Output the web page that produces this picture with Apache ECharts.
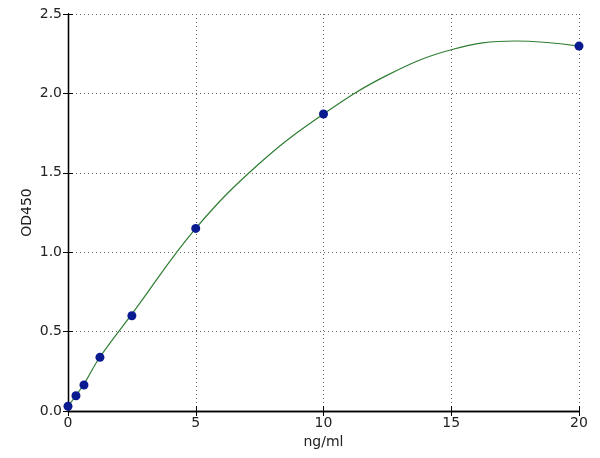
<!DOCTYPE html>
<html>
<head>
<meta charset="utf-8">
<script src="https://cdn.jsdelivr.net/npm/echarts@6/dist/echarts.min.js"></script>
<style>
html,body{margin:0;padding:0;background:#fff;}
#chart{width:600px;height:458px;}
</style>
</head>
<body>
<div id="chart"></div>
<script>
// Standard points
var concentrations = [0, 0.3125, 0.625, 1.25, 2.5, 5, 10, 20];
var odValues = [0.03, 0.096, 0.164, 0.338, 0.60, 1.15, 1.87, 2.298];
// Fitted curve
var curveX = [0, 0.625, 1.25, 2.5, 5, 7.5, 10, 12.5, 15, 17.5, 20];
var curveY = [0.03, 0.17, 0.34, 0.61, 1.15, 1.56, 1.87, 2.115, 2.275, 2.33, 2.298];
var xTicks = [0, 5, 10, 15, 20];
var yTicks = [0, 0.5, 1.0, 1.5, 2.0, 2.5];

var font = 'DejaVu Sans';
var txt = '#222';
function pairs(xs, ys){ return xs.map(function(x,i){ return [x, ys[i]]; }); }

var chart = echarts.init(document.getElementById('chart'));
var axisLine = {show:true, lineStyle:{color:'#000', width:1.3}};
var tickIn = {show:true, inside:true, length:5, lineStyle:{color:'#000'}};
chart.setOption({
  animation:false,
  backgroundColor:'#fff',
  grid:{left:68, right:21, top:14, bottom:47},
  xAxis:[{
    type:'value', min:xTicks[0], max:xTicks[xTicks.length-1], interval:xTicks[1]-xTicks[0],
    name:'ng/ml', nameLocation:'middle', nameGap:24, nameMoveOverlap:false,
    nameTextStyle:{fontFamily:font, fontSize:14, color:txt},
    axisLine:axisLine, axisTick:tickIn,
    axisLabel:{fontFamily:font, fontSize:14, color:txt, margin:5},
    splitLine:{show:true, lineStyle:{color:'#666', type:[1,3], width:1}}
  },{
    type:'value', position:'top', min:xTicks[0], max:xTicks[xTicks.length-1], interval:xTicks[1]-xTicks[0],
    axisLine:axisLine, axisTick:tickIn, axisLabel:{show:false}, splitLine:{show:false}
  }],
  yAxis:[{
    type:'value', min:yTicks[0], max:yTicks[yTicks.length-1], interval:0.5,
    name:'OD450', nameLocation:'middle', nameGap:34, nameMoveOverlap:false,
    nameTextStyle:{fontFamily:font, fontSize:14, color:txt},
    axisLine:axisLine, axisTick:tickIn,
    axisLabel:{fontFamily:font, fontSize:14, color:txt, margin:6, formatter:function(v){return v.toFixed(1);}},
    splitLine:{show:true, lineStyle:{color:'#666', type:[1,3], width:1}}
  },{
    type:'value', position:'right', min:yTicks[0], max:yTicks[yTicks.length-1], interval:0.5,
    axisLine:axisLine, axisTick:tickIn, axisLabel:{show:false}, splitLine:{show:false}
  }],
  series:[{
    type:'line', data:pairs(curveX, curveY), smooth:0.4, showSymbol:false,
    lineStyle:{color:'#2e7d32', width:1.2}, z:2
  },{
    type:'scatter', data:pairs(concentrations, odValues), symbolSize:9,
    itemStyle:{color:'#0a1a90', opacity:1}, z:3
  }]
});
</script>
</body>
</html>
